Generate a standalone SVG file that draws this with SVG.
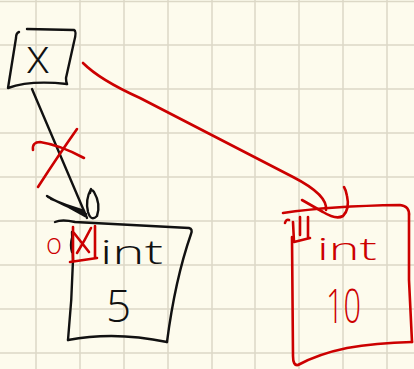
<svg xmlns="http://www.w3.org/2000/svg" width="414" height="369" viewBox="0 0 414 369">
<style>
.grid{stroke:#dcd8c6;stroke-width:1.5;fill:none}
.ink{fill:none;stroke:#111;stroke-width:2.4;stroke-linecap:round;stroke-linejoin:round}
.red{fill:none;stroke:#cc0000;stroke-width:2.6;stroke-linecap:round;stroke-linejoin:round}
.t{font-family:"Open Sans","Liberation Sans",sans-serif;font-weight:300}
.tb{fill:#111}
.tr{fill:#cc0000}
</style>
<rect width="414" height="369" fill="#fdfbed"/>
<g id="grid" class="grid">
<path d="M36,0V369M80,0V369M124,0V369M168,0V369M212,0V369M255,0V369M299,0V369M343,0V369M387,0V369"/>
<path d="M0,1.5H414M0,45H414M0,89H414M0,133H414M0,177H414M0,221H414M0,265H414M0,309H414M0,353H414"/>
</g>
<g id="connectors">
<path class="ink" d="M32,89 L87,218"/>
<path class="ink" d="M48,197 Q66,205 85,216 M51,199 Q68,206 84,211 M47,196 Q60,204 86,214"/>
<path class="ink" d="M91,189 Q85,200 88,212 Q91,222 97,216 Q101,204 94,192 Q91,188 90,193"/>
<path class="red" d="M38,187 Q58,156 77,129"/>
<path class="red" d="M33,150 Q32,142 40,142 Q60,145 84,158"/>
<path class="red" d="M83,63 Q100,80 140,98 L293,177 Q328,195 326,210"/>
<path class="red" d="M302,200 Q316,208 323,212 Q336,220 343,216 Q350,209 347,196 Q346,190 344,187"/>
</g>
<g id="node-x">
<path class="ink" d="M19,32 Q16,33 16,38 L8,88 Q30,80 67,84"/>
<path class="ink" d="M27,29 L74,30 Q77,31 74,42 Q70,60 66,78 Q66,82 67,84"/>
<text class="t tb" x="26" y="73" font-size="48">x</text>
</g>
<g id="node-int5">
<path class="ink" d="M55,222 Q62,219 75,222 L189,228 Q193,229 191,234 Q175,280 167,342"/>
<path class="ink" d="M68,340 Q115,331 167,342"/>
<path class="ink" d="M72,232 L73,260 Q72,300 68,340"/>
<path class="ink" d="M72,238 Q70,245 72,252"/>
<path class="red" d="M73,227 L73,261 M70,262 L97,258 M95,226 L95,258"/>
<path class="red" d="M74,233 L89,252 M91,228 Q85,240 77,253"/>
<text class="t tr" x="46" y="254" font-size="30" textLength="16" lengthAdjust="spacingAndGlyphs">o</text>
<text class="t tb" x="100" y="264" font-size="33" textLength="63" lengthAdjust="spacingAndGlyphs">int</text>
<text class="t tb" x="106" y="322" font-size="44">5</text>
</g>
<g id="node-int10">
<path class="red" d="M283,213 Q330,206 400,205 Q410,206 409,216 L409,280 L412,342"/>
<path class="red" d="M412,342 Q375,343 347,348 Q318,354 298,365 Q293,366 293,356 L292,237"/>
<path class="red" d="M285,223 Q286,219 289,220 M293,222 L294,242 L310,238 M300,217 L300,235 M308,217 L308,237"/>
<text class="t tr" x="317" y="260" font-size="32" textLength="60" lengthAdjust="spacingAndGlyphs">int</text>
<text class="t tr" x="326" y="323" font-size="48" textLength="35" lengthAdjust="spacingAndGlyphs">10</text>
</g>
</svg>
